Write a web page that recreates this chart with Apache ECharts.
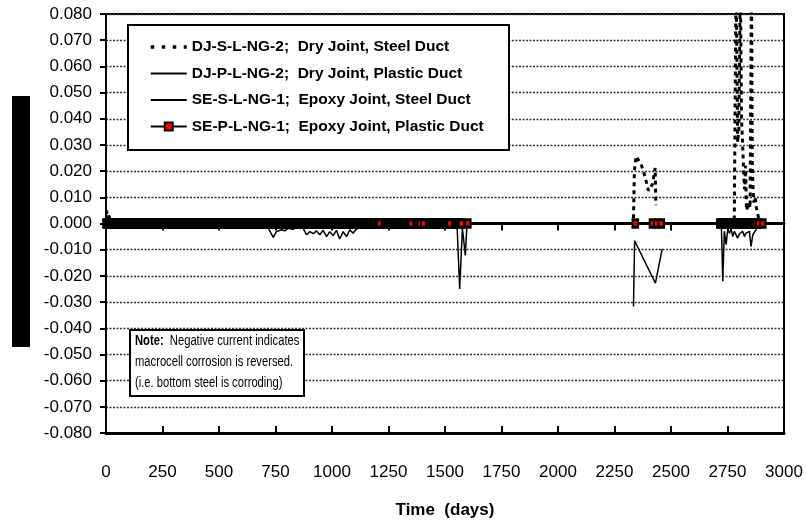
<!DOCTYPE html>
<html>
<head>
<meta charset="utf-8">
<script src="https://cdn.jsdelivr.net/npm/echarts@6/dist/echarts.min.js"></script>
<style>
  html, body { margin: 0; padding: 0; background: #fff; }
  #chart { width: 806px; height: 529px; }
</style>
</head>
<body>
<div id="chart"></div>
<script>
// Macrocell current readings, [time (days), current]; '-' marks a break in the record.
const seriesNames = [
  'DJ-S-L-NG-2;  Dry Joint, Steel Duct',
  'DJ-P-L-NG-2;  Dry Joint, Plastic Duct',
  'SE-S-L-NG-1;  Epoxy Joint, Steel Duct',
  'SE-P-L-NG-1;  Epoxy Joint, Plastic Duct'
];

const djSteel = [
  [0, 0.0005], [4, 0.0048], [11, 0.0045], [18, 0.0015], [28, 0.0003], [400, 0], [800, 0], [1200, 0], [1607, 0],
  [1970, '-'],
  [2334, 0.002], [2338, 0.0200], [2345, 0.0257], [2368, 0.0225], [2385, 0.0180], [2400, 0.0125], [2418, 0.0150],
  [2430, 0.0212], [2433, 0.0070],
  [2550, '-'],
  [2716, 0], [2780, 0.001], [2788, 0.095], [2795, 0.031], [2800, 0.036], [2807, 0.095], [2812, 0.040], [2818, 0.028],
  [2822, 0.018], [2826, 0.013], [2830, 0.022], [2834, 0.005], [2845, 0.008], [2850, 0.006], [2856, 0.095], [2860, 0.020],
  [2866, 0.008], [2872, 0.010], [2878, 0.006], [2890, 0.001], [2906, 0]
];

const djPlastic = [
  [0, 0], [400, 0], [800, 0], [1200, 0], [1500, 0], [1553, 0], [1565, -0.0250], [1577, -0.0018], [1590, -0.0122],
  [1597, -0.0005], [1607, 0],
  [1970, '-'],
  [2716, 0], [2723, -0.0010], [2729, -0.0220], [2736, -0.0030], [2744, -0.0081], [2751, -0.0024], [2759, -0.0037],
  [2766, -0.0020], [2773, -0.0050], [2780, -0.0030], [2788, -0.0037], [2795, -0.0056], [2802, -0.0040], [2810, -0.0043],
  [2817, -0.0030], [2825, -0.0050], [2832, -0.0037], [2840, -0.0043], [2847, -0.0030], [2854, -0.0088], [2862, -0.0043],
  [2869, -0.0037], [2876, -0.0024], [2884, -0.0010], [2891, 0], [2906, 0]
];

const seSteel = [
  [0, 0], [7, 0.0030], [14, 0.0010], [21, 0], [300, 0], [711, 0], [718, -0.0018], [740, -0.0053], [754, -0.0031],
  [777, -0.0024], [791, -0.0028], [806, -0.0018], [828, -0.0022], [843, -0.0015], [858, -0.0010], [872, -0.0018],
  [887, -0.0043], [902, -0.0031], [917, -0.0039], [931, -0.0028], [946, -0.0043], [961, -0.0026], [976, -0.0050],
  [990, -0.0031], [1005, -0.0046], [1020, -0.0026], [1034, -0.0059], [1049, -0.0031], [1064, -0.0050], [1079, -0.0024],
  [1093, -0.0037], [1108, -0.0021], [1123, -0.0015], [1130, 0], [1400, 0], [1607, 0],
  [1970, '-'],
  [2334, -0.0317], [2339, -0.0066], [2431, -0.0228], [2461, -0.0097]
];

const sePlastic = [
  [0,0],[7,0],[14,0],[21,0],[28,0],[35,0],[42,0],[49,0],[56,0],[63,0],[70,0],[77,0],[84,0],[91,0],[98,0],
  [105,0],[112,0],[119,0],[126,0],[133,0],[140,0],[147,0],[154,0],[161,0],[168,0],[175,0],[182,0],[189,0],[196,0],
  [203,0],[210,0],[217,0],[224,0],[231,0],[238,0],[245,0],[252,0],[259,0],[266,0],[273,0],[280,0],[287,0],[294,0],
  [301,0],[308,0],[315,0],[322,0],[329,0],[336,0],[343,0],[350,0],[357,0],[364,0],[371,0],[378,0],[385,0],[392,0],
  [399,0],[406,0],[413,0],[420,0],[427,0],[434,0],[441,0],[448,0],[455,0],[462,0],[469,0],[476,0],[483,0],[490,0],
  [497,0],[504,0],[511,0],[518,0],[525,0],[532,0],[539,0],[546,0],[553,0],[560,0],[567,0],[574,0],[581,0],[588,0],
  [595,0],[602,0],[609,0],[616,0],[623,0],[630,0],[637,0],[644,0],[651,0],[658,0],[665,0],[672,0],[679,0],[686,0],
  [693,0],[700,0],[707,0],[714,0],[721,0],[728,0],[735,0],[742,0],[749,0],[756,0],[763,0],[770,0],[777,0],[784,0],
  [791,0],[798,0],[805,0],[812,0],[819,0],[826,0],[833,0],[840,0],[847,0],[854,0],[861,0],[868,0],[875,0],[882,0],
  [889,0],[896,0],[903,0],[910,0],[917,0],[924,0],[931,0],[938,0],[945,0],[952,0],[959,0],[966,0],[973,0],[980,0],
  [987,0],[994,0],[1001,0],[1008,0],[1015,0],[1022,0],[1029,0],[1036,0],[1043,0],[1050,0],[1057,0],[1064,0],[1071,0],
  [1078,0],[1085,0],[1092,0],[1099,0],[1106,0],[1113,0],[1120,0],[1127,0],[1134,0],[1141,0],[1148,0],[1155,0],[1162,0],
  [1169,0],[1176,0],[1183,0],[1190,0],[1197,0],[1204,0],[1211,0],
  [1232,0],[1239,0],[1246,0],[1253,0],[1260,0],[1267,0],[1274,0],[1281,0],[1288,0],[1295,0],[1302,0],[1309,0],
  [1316,0],[1323,0],[1330,0],[1337,0],[1344,0],[1351,0],
  [1372,0],[1379,0],[1386,0],[1391,0],[1406,0],
  [1428,0],[1435,0],[1442,0],[1449,0],[1456,0],[1463,0],[1470,0],[1477,0],[1484,0],[1491,0],[1498,0],[1505,0],
  [1512,0],[1521,0],
  [1544,0],[1551,0],[1558,0],[1565,0],[1572,0],[1601,0],
  [2342,0],[2418,0],[2437,0],[2457,0],
  [2716,0],[2723,0],[2730,0],[2737,0],[2744,0],[2751,0],[2758,0],[2765,0],[2772,0],[2779,0],[2786,0],[2793,0],
  [2800,0],[2807,0],[2814,0],[2821,0],[2828,0],[2835,0],[2842,0],[2849,0],[2856,0],[2863,0],[2870,0],[2877,0],
  [2888,0],[2906,0]
];

const xRange = { min: 0, max: 3000, step: 250 };
const yRange = { min: -0.08, max: 0.08, step: 0.01 };
const noteLines = [
  ['Note:', '  Negative current indicates'],
  ['', 'macrocell corrosion is reversed.'],
  ['', '(i.e. bottom steel is corroding)']
];

const FONT = "'Liberation Sans', Arial, sans-serif";

const chart = echarts.init(document.getElementById('chart'), null, { renderer: 'canvas' });

// Zero line of the time axis with ticks crossing it (one axis ticks down, one up);
// a third, line-less time axis carries the labels below the plot.
const zeroAxis = (inside) => ({
  type: 'value', min: xRange.min, max: xRange.max, interval: xRange.step, position: 'bottom',
  axisLine: { show: true, onZero: true, lineStyle: { color: '#000', width: 3 } },
  axisTick: { show: true, inside: inside, length: 7, lineStyle: { color: '#000', width: 2 } },
  axisLabel: { show: false }, splitLine: { show: false }
});

const noteText = noteLines.map(([b, n]) => (b ? '{b|' + b + '}' : '') + '{n|' + n + '}').join('\n');

// Legend entries: the plain-line series show only their line in the key;
// the dry-joint steel duct key uses spaced square dots.
const legendData = seriesNames.map((name, i) => {
  if (i === 0) return { name: name, itemStyle: { opacity: 0 }, lineStyle: { type: [3.5, 7.5], width: 3.5 } };
  if (i < 3) return { name: name, itemStyle: { opacity: 0 } };
  return { name: name };
});

chart.setOption({
  animation: false,
  backgroundColor: '#fff',
  grid: {
    left: 106, right: 22, top: 14, bottom: 96,
    show: true, borderColor: '#000', borderWidth: 2, backgroundColor: 'transparent',
    outerBoundsMode: 'none'
  },
  xAxis: [
    zeroAxis(false),
    zeroAxis(true),
    {
      type: 'value', min: xRange.min, max: xRange.max, interval: xRange.step, position: 'bottom',
      axisLine: { show: false, onZero: false }, axisTick: { show: false }, splitLine: { show: false },
      axisLabel: { formatter: (v) => String(v), fontSize: 17, color: '#000', fontFamily: FONT, margin: 31 },
      name: 'Time  (days)', nameLocation: 'middle', nameGap: 69,
      nameTextStyle: { fontSize: 17, fontWeight: 'bold', color: '#000', fontFamily: FONT }
    }
  ],
  yAxis: {
    type: 'value', min: yRange.min, max: yRange.max, interval: yRange.step, position: 'left',
    axisLine: { show: true, onZero: false, lineStyle: { color: '#000', width: 2 } },
    axisTick: { show: true, length: 6, lineStyle: { color: '#000', width: 2 } },
    axisLabel: { formatter: (v) => v.toFixed(3), fontSize: 17, color: '#000', fontFamily: FONT, margin: 14 },
    splitLine: { show: true, lineStyle: { color: '#333', width: 1.3, type: [2, 1.5] } }
  },
  legend: {
    orient: 'vertical', left: 149, top: 39, padding: 0, itemWidth: 36, itemHeight: 10, itemGap: 10.5,
    selectedMode: false, z: 4,
    textStyle: { fontFamily: FONT, fontSize: 15.5, fontWeight: 'bold', color: '#000', lineHeight: 16 },
    data: legendData
  },
  graphic: [
    { type: 'rect', z: 0, shape: { x: 12, y: 96, width: 18, height: 251 }, style: { fill: '#000' }, silent: true },
    { type: 'rect', z: 3, shape: { x: 128, y: 25, width: 381, height: 125 },
      style: { fill: '#fff', stroke: '#000', lineWidth: 2 }, silent: true },
    { type: 'rect', z: 5, shape: { x: 130, y: 330, width: 174, height: 66 },
      style: { fill: '#fff', stroke: '#000', lineWidth: 2 }, silent: true },
    { type: 'text', z: 6, x: 135, y: 331, scaleX: 0.8, silent: true,
      style: {
        text: noteText,
        rich: {
          b: { fontFamily: FONT, fontSize: 14, fontWeight: 'bold', fill: '#000', lineHeight: 21 },
          n: { fontFamily: FONT, fontSize: 14, fill: '#000', lineHeight: 21 }
        }
      }
    }
  ],
  series: [
    {
      name: seriesNames[0], type: 'line', xAxisIndex: 0, data: djSteel, symbol: 'none', silent: true,
      connectNulls: false, lineStyle: { color: '#000', width: 3, type: [4, 4] }, itemStyle: { color: '#000' }
    },
    {
      name: seriesNames[1], type: 'line', xAxisIndex: 0, data: djPlastic, symbol: 'none', silent: true,
      connectNulls: false, lineStyle: { color: '#000', width: 1.5 }, itemStyle: { color: '#000' }
    },
    {
      name: seriesNames[2], type: 'line', xAxisIndex: 0, data: seSteel, symbol: 'none', silent: true,
      connectNulls: false, lineStyle: { color: '#000', width: 1.5 }, itemStyle: { color: '#000' }
    },
    {
      name: seriesNames[3], type: 'line', xAxisIndex: 0, data: sePlastic, silent: true,
      symbol: 'rect', symbolSize: [5.5, 7.5], showAllSymbol: true,
      lineStyle: { color: '#000', width: 2 },
      itemStyle: { color: '#ff0000', borderColor: '#000', borderWidth: 2.5 }
    }
  ]
});
</script>
</body>
</html>
